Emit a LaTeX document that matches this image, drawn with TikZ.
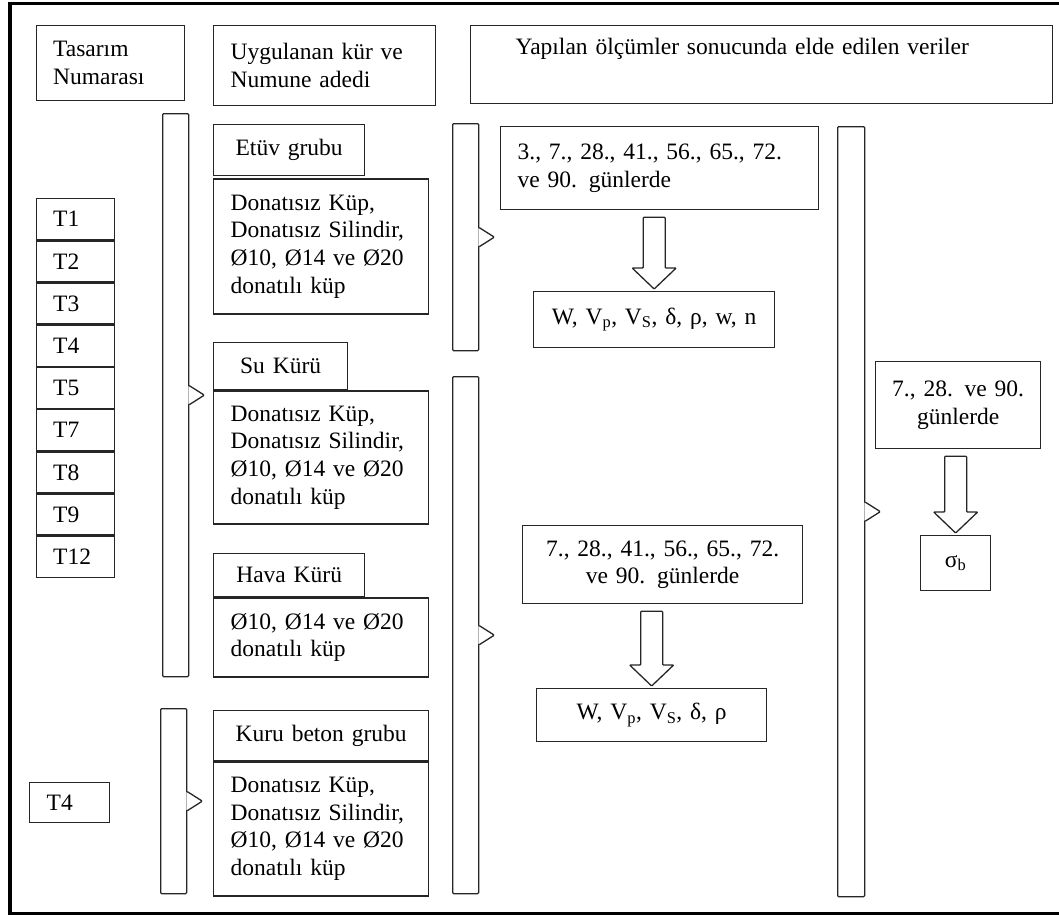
\documentclass[tikz,border=0pt]{standalone}
\usepackage{fontspec}
\setmainfont{Liberation Serif}
\usetikzlibrary{positioning, calc}
\tikzset{
	x=1pt, y=-1pt,
	every node/.style={font=\fontsize{23.5pt}{27.6pt}\selectfont},
	box/.style={draw=black!85, line width=1.3pt, inner xsep=17pt, inner ysep=0pt, anchor=north west},
	lbox/.style={box, align=left},
	cbox/.style={box, align=center},
	tbox/.style={lbox, text width=44.5pt, minimum height=40.9pt},
	bar/.style={draw=black!85, line width=1.3pt, inner sep=0pt, minimum width=26pt, anchor=north west, rounded corners=1pt},
	notchline/.style={draw=black!85, line width=1.3pt, rounded corners=1pt},
	fatarrow/.style={draw=black!85, line width=1.3pt, fill=white, rounded corners=0.8pt}}
\newcommand\notch[1]{%
	\fill[white] ([shift={(-1pt,9pt)}]#1.east) -- ([shift={(4pt,7pt)}]#1.east) -- ([xshift=15pt]#1.east)
		-- ([shift={(4pt,-7pt)}]#1.east) -- ([shift={(-1pt,-9pt)}]#1.east) -- cycle;
	\draw[notchline] ([yshift=9.5pt]#1.east) -- ([shift={(4pt,7pt)}]#1.east) -- ([xshift=15pt]#1.east)
		-- ([shift={(4pt,-7pt)}]#1.east) -- ([yshift=-9.5pt]#1.east);}
\newcommand\bigdown[2]{%
	\draw[fatarrow] let \p1=(#1.south), \p2=(#2.north) in
		(\x2-11pt,\y1-7pt) -- (\x2-11pt,\y2+23pt) -- (\x2-22pt,\y2+23pt) -- (\x2,\y2+2pt)
		-- (\x2+22pt,\y2+23pt) -- (\x2+11pt,\y2+23pt) -- (\x2+11pt,\y1-7pt) -- cycle;}

\begin{document}
\begin{tikzpicture}
		\useasboundingbox (0,0) rectangle (1059,916);
		\clip (0,0) rectangle (1059,916);
		\draw[line width=3.5pt] (10,3.5) rectangle (1066,913.5);
		
		% header
		\node[lbox, text width=114.5pt, minimum height=75pt] (tasarim) at (35.5,25) {Tasarım\\Numarası};
		\node[lbox, text width=188pt, minimum height=80pt] (uygulanan) at (213,25) {Uygulanan kür ve\\Numune adedi};
		\node[lbox, inner xsep=45pt, text width=492pt, minimum height=78pt] (yapilan) at (470,25) {Yapılan ölçümler sonucunda elde edilen veriler\\ \strut};
		
		% design numbers
		\node[tbox] (t1) at (35.5,198) {T1};
		\node[tbox, below=0pt of t1] (t2) {T2};
		\node[tbox, below=0pt of t2] (t3) {T3};
		\node[tbox, below=0pt of t3] (t4) {T4};
		\node[tbox, below=0pt of t4] (t5) {T5};
		\node[tbox, below=0pt of t5] (t7) {T7};
		\node[tbox, below=0pt of t7] (t8) {T8};
		\node[tbox, below=0pt of t8] (t9) {T9};
		\node[tbox, below=0pt of t9] (t12) {T12};
		\node[tbox, text width=46pt, minimum height=40pt] (t4b) at (29,782) {T4};
		
		% curing groups
		\node[cbox, text width=117pt, minimum height=51pt] (etuv) at (213,124) {Etüv grubu};
		\node[lbox, text width=181pt, minimum height=135pt, below=2pt of etuv.south west, anchor=north west] (etuvdet) {Donatısız Küp,\\Donatısız Silindir,\\Ø10, Ø14 ve Ø20\\donatılı küp};
		\node[cbox, text width=100pt, minimum height=47pt] (su) at (213,342) {Su Kürü};
		\node[lbox, text width=181pt, minimum height=133pt, below=0pt of su.south west, anchor=north west] (sudet) {Donatısız Küp,\\Donatısız Silindir,\\Ø10, Ø14 ve Ø20\\donatılı küp};
		\node[cbox, text width=117pt, minimum height=43pt] (hava) at (213,553) {Hava Kürü};
		\node[lbox, text width=181pt, minimum height=79pt, below=0pt of hava.south west, anchor=north west] (havadet) {Ø10, Ø14 ve Ø20\\donatılı küp};
		\node[cbox, text width=181pt, minimum height=50pt] (kuru) at (213,710) {Kuru beton grubu};
		\node[lbox, text width=181pt, minimum height=134pt, below=0pt of kuru.south west, anchor=north west] (kurudet) {Donatısız Küp,\\Donatısız Silindir,\\Ø10, Ø14 ve Ø20\\donatılı küp};
		
		% measurements
		\node[lbox, text width=284pt, minimum height=83pt] (gun1) at (500,126) {3., 7., 28., 41., 56., 65., 72.\\ve 90. günlerde};
		\node[cbox, text width=207pt, minimum height=56pt] (olc1) at (533,291) {W, V\textsubscript{p}, V\textsubscript{S}, δ, ρ, w, n};
		\node[cbox, text width=246pt, minimum height=78pt] (gun2) at (522,525) {7., 28., 41., 56., 65., 72.\\ve 90. günlerde};
		\node[cbox, text width=196pt, minimum height=53pt] (olc2) at (536,688) {W, V\textsubscript{p}, V\textsubscript{S}, δ, ρ};
		\node[cbox, inner xsep=4pt, text width=157pt, minimum height=87pt] (gun3) at (875,361) {7., 28. ve 90.\\günlerde};
		\node[cbox, text width=36pt, minimum height=55pt] (sigma) at (920,535) {σ\textsubscript{b}};
		
		% bars
		\node[bar, minimum height=563pt] (bar1) at (162,113) {};
		\node[bar, minimum height=185pt] (bar2) at (160,708) {};
		\node[bar, minimum height=227pt] (bar3) at (452,123) {};
		\node[bar, minimum height=517pt] (bar4) at (452,376) {};
		\node[bar, minimum height=770pt, minimum width=27pt] (bar5) at (837,126) {};
		\notch{bar1}
		\notch{bar2}
		\notch{bar3}
		\notch{bar4}
		\notch{bar5}
		
		\bigdown{gun1}{olc1}
		\bigdown{gun2}{olc2}
		\bigdown{gun3}{sigma}
	\end{tikzpicture}
\end{document}
